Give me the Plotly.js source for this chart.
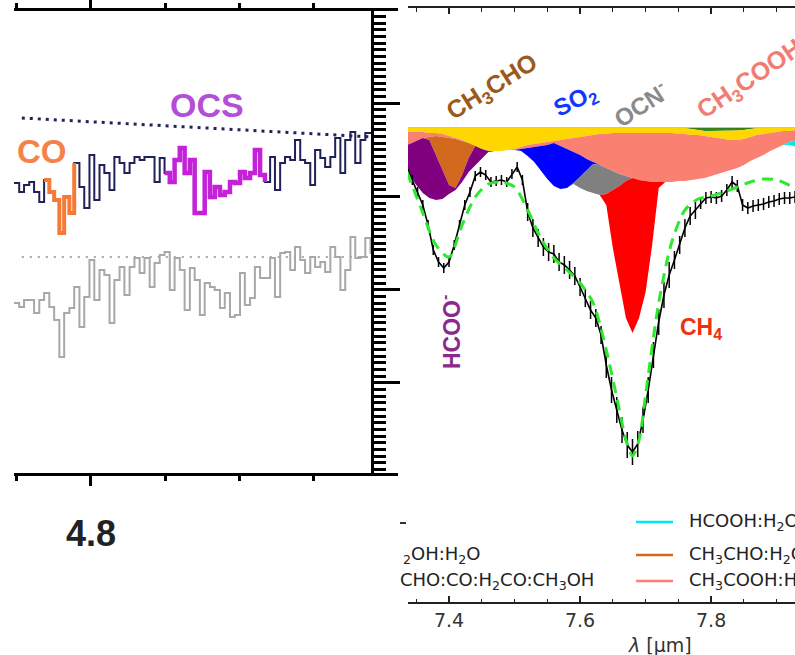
<!DOCTYPE html>
<html><head><meta charset="utf-8">
<script src="https://cdn.plot.ly/plotly-3.0.1.min.js"></script>
<style>html,body{margin:0;padding:0;overflow:hidden;background:#fff}#chart{width:795px;height:655px}</style>
</head><body><div id="chart"></div>
<script>
// ---------------- LEFT PANEL (4.8 micron region) ----------------
const leftWave = [4.7793,4.7807,4.7820,4.7834,4.7847,4.7861,4.7874,4.7888,4.7901,4.7915,
4.7928,4.7942,4.7955,4.7969,4.7982,4.7996,4.8009,4.8023,4.8036,4.8050,
4.8063,4.8077,4.8090,4.8104,4.8117,4.8131,4.8144,4.8158,4.8171,4.8185,
4.8198,4.8212,4.8225,4.8239,4.8252,4.8266,4.8279,4.8293,4.8306,4.8320,
4.8333,4.8347,4.8360,4.8374,4.8387,4.8401,4.8414,4.8428,4.8441,4.8455,
4.8468,4.8482,4.8495,4.8509,4.8522,4.8536,4.8549,4.8563,4.8576,4.8590,
4.8603,4.8617,4.8630,4.8644,4.8657,4.8671,4.8684,4.8698,4.8711,4.8725,
4.8738,4.8752,4.8759];
const navyFlux = [3.144,3.047,3.122,3.154,3.047,2.940,3.176,3.047,2.961,2.608,
2.994,2.822,3.358,3.101,2.876,3.444,2.961,3.337,3.251,3.069,
3.422,3.358,3.251,3.358,3.422,3.390,3.422,3.422,3.154,3.412,
3.251,3.154,3.390,3.519,3.251,3.390,2.822,2.822,3.262,2.994,
3.101,3.015,3.047,3.154,3.144,3.262,3.197,3.251,3.497,3.229,
3.154,3.422,3.069,3.358,3.422,3.390,3.604,3.390,3.358,3.122,
3.497,3.412,3.315,3.422,3.626,3.251,3.604,3.690,3.358,3.604,
3.680,3.680,3.680];
const grayFlux = [1.857,1.815,1.890,1.890,1.750,1.890,1.965,1.815,1.675,1.279,
1.750,1.804,2.029,1.600,1.922,2.318,1.890,2.211,2.158,1.643,
2.104,2.243,1.943,2.243,2.340,2.179,2.340,2.029,2.286,2.372,
2.404,1.997,2.340,2.211,1.782,2.233,2.104,1.729,2.072,2.029,
1.997,1.804,1.965,1.707,1.729,2.179,1.836,1.911,2.243,2.125,
2.125,2.340,1.922,2.393,2.404,2.211,2.458,2.318,2.179,2.350,
2.243,2.297,2.190,2.458,2.350,1.997,2.211,2.565,2.340,2.350,
2.554,2.393,2.393];
const coChannels = [6, 12];     // first/last channel of CO feature
const ocsChannels = [30, 50];   // first/last channel of OCS feature
const contWave = [4.7814, 4.8756];
const contNavy = [3.840, 3.637];
const contGray = [2.350, 2.350];
const leftMinorTicks = [4.78, 4.82, 4.84, 4.86];

// ---------------- RIGHT PANEL (7.3-7.9 micron region) ----------------
const compWave = [7.33,7.34,7.35,7.36,7.37,7.38,7.39,7.40,7.41,7.42,
7.43,7.44,7.45,7.46,7.47,7.48,7.49,7.50,7.51,7.52,
7.53,7.54,7.55,7.56,7.57,7.58,7.59,7.60,7.61,7.62,
7.63,7.64,7.65,7.66,7.67,7.68,7.69,7.70,7.71,7.72,
7.73,7.74,7.75,7.76,7.77,7.78,7.79,7.80,7.81,7.82,
7.83,7.84,7.85,7.86,7.87,7.88,7.89,7.90,7.91,7.92,7.93];
// optical depth of each ice component, in units of 1e-3 (stacked top to bottom)
const greenComp = [0,0,0,0,0,0,0,0,0,0, 0,0,0,0,0,0,0,0,0,0, 0,0,0,0,0,0,0,0,0,0,
 0,0,0,0,0,0,0,0,0,0, 0,0,0,0,1,2,3,3,3,3, 3,2.5,2,1,0,0,0,0,0,0, 0];
const yellowComp = [4,4,4,4,5,5,6,8,10,12, 15,18,21,23,23,23,22,21,19,17,
 16,15,14,13,12,11,10,9,8,7, 6,6,5,5,5,5,5,5,5,5, 5,5,6,6,6,5,5,6,7,8, 9,9.5,9,8,7,6,5,4,3,3, 2];
const salmonComp = [14,12,9,6,4,3,3,2,1,1, 0,0,0,0,0,0,0,1,2,3,
 3,3,3,2,6,10,14,18,23,27, 31,34,38,41,43,45,47,48,49,49, 49,49,47,47,45,44,42,39,36,33,
 30,28,26,24,23,21,18,16,14,11, 10];
const cyanComp = [0,0,0,0,0,0,0,0,0,0, 0,0,0,0,0,0,0,0,0,0, 0,0,0,0,0,0,0,0,0,0,
 0,0,0,0,0,0,0,0,0,0, 0,0,0,0,0,0,0,0,0,0, 0,0,0,0,0,0,0,0,0,3, 7];
const orangeComp = [0,0,0,0,3,19,33,47,49,34, 15,0,0,0,0,0,0,0,0,0, 0,0,0,0,0,0,0,0,0,0,
 0,0,0,0,0,0,0,0,0,0, 0,0,0,0,0,0,0,0,0,0, 0,0,0,0,0,0,0,0,0,0, 0];
const purpleComp = [22,31,44,55,58,45,29,9,2,7, 14,19,9,1,0,0,0,0,0,0, 0,0,0,0,0,0,0,0,0,0,
 0,0,0,0,0,0,0,0,0,0, 0,0,0,0,0,0,0,0,0,0, 0,0,0,0,0,0,0,0,0,0, 0];
const blueComp = [0,0,0,0,0,0,0,0,0,0, 0,0,0,0,0,0,0,0,2,8, 15,25,34,43,43,39,31,22,11,2,
 0,0,0,0,0,0,0,0,0,0, 0,0,0,0,0,0,0,0,0,0, 0,0,0,0,0,0,0,0,0,0, 0];
const grayComp = [0,0,0,0,0,0,0,0,0,0, 0,0,0,0,0,0,0,0,0,0, 0,0,0,0,0,0,1,11,21,29,
 30,26,19,12,5,0,0,0,0,0, 0,0,0,0,0,0,0,0,0,0, 0,0,0,0,0,0,0,0,0,0, 0];
const redComp = [0,0,0,0,0,0,0,0,0,0, 0,0,0,0,0,0,0,0,0,0, 0,0,0,0,0,0,0,0,0,0,
 0,11,58,97,137,155,138,111,63,6, 0,0,0,0,0,0,0,0,0,0, 0,0,0,0,0,0,0,0,0,0, 0];

const obsWave = [7.336,7.344,7.352,7.360,7.368,7.376,7.384,7.392,7.400,7.408,
7.416,7.424,7.432,7.440,7.448,7.456,7.464,7.472,7.480,7.488,
7.496,7.504,7.512,7.520,7.528,7.536,7.544,7.552,7.560,7.568,
7.576,7.584,7.592,7.600,7.608,7.616,7.624,7.632,7.640,7.648,
7.656,7.664,7.672,7.680,7.688,7.696,7.704,7.712,7.720,7.728,
7.736,7.744,7.752,7.760,7.768,7.776,7.784,7.792,7.800,7.808,
7.816,7.824,7.832,7.840,7.848,7.856,7.864,7.872,7.880,7.888,
7.896,7.904,7.912,7.920,7.928];
const obsTau = [40,52,64,77,97,122,134,140,134,117,
97,77,64,48,44,47,54,53,52,54,
46,39,52,84,100,110,119,124,126,134,
137,142,148,159,170,182,190,207,237,262,
282,302,317,324,316,292,262,227,194,167,
147,132,117,100,88,82,75,70,69,70,
68,62,54,58,77,80,78,77,76,74,
73,71,70,70,69];
const obsErr = [5,5,5,5,5,5,5,5,5,5, 5,5,5,5,5,5,5,5,5,5,
5,5,5,9,9,9,9,9,9,9, 9,9,9,9,9,9,9,9,13,13,
13,13,13,13,13,13,13,13,13,13, 13,9,9,9,9,9,6,6,6,6,
6,6,6,6,6,6,6,6,6,6, 6,6,6,6,6];
const modelWave = [7.336,7.36,7.38,7.40,7.42,7.44,7.46,7.48,7.50,7.52,7.54,7.56,7.58,7.60,7.62,7.64,
7.66,7.67,7.68,7.69,7.70,7.72,7.74,7.76,7.78,7.80,7.82,7.84,7.86,7.88,7.90,7.928];
const modelTau = [44,85,117,129,97,69,56,54,59,82,110,130,142,155,175,222,
282,312,328,312,267,175,114,82,71,68,64,59,54,51,52,60];

// ---------------- BUILD ----------------
const traces = [];
const L = {xaxis:'x', yaxis:'y'};
traces.push(Object.assign({x:leftWave, y:grayFlux, mode:'lines', line:{shape:'hv', color:'#a8a8a8', width:2}}, L));
traces.push(Object.assign({x:contWave, y:contGray, mode:'lines', line:{color:'#a8a8a8', width:2.2, dash:'2px,6px'}}, L));
traces.push(Object.assign({x:contWave, y:contNavy, mode:'lines', line:{color:'#20245a', width:3, dash:'3px,5px'}}, L));
traces.push(Object.assign({x:leftWave, y:navyFlux, mode:'lines', line:{shape:'hv', color:'#1e2258', width:2}}, L));
traces.push(Object.assign({x:leftWave.slice(coChannels[0], coChannels[1]+1), y:navyFlux.slice(coChannels[0], coChannels[1]+1),
  mode:'lines', line:{shape:'hv', color:'#f47a36', width:4}}, L));
traces.push(Object.assign({x:leftWave.slice(ocsChannels[0], ocsChannels[1]+1), y:navyFlux.slice(ocsChannels[0], ocsChannels[1]+1),
  mode:'lines', line:{shape:'hv', color:'#c322d8', width:4.5}}, L));

const R = {xaxis:'x2', yaxis:'y2'};
const layers = [
  [greenComp,'#2e8b1e'], [yellowComp,'#ffd700'], [salmonComp,'#fa8072'], [cyanComp,'#00e8f0'],
  [orangeComp,'#d2691e'], [purpleComp,'#800080'], [blueComp,'#0000ff'], [grayComp,'#808080'], [redComp,'#ff0000']
];
let cum = compWave.map(() => 0);
traces.push(Object.assign({x:compWave, y:cum.slice(), mode:'lines', line:{color:'rgba(80,100,20,0.7)', width:1}}, R));
layers.forEach(([arr, col]) => {
  cum = cum.map((v, i) => v + arr[i]);
  traces.push(Object.assign({x:compWave, y:cum.slice(), mode:'lines', line:{width:0, color:col},
    fill:'tonexty', fillcolor:col}, R));
});
traces.push(Object.assign({x:obsWave, y:obsTau, mode:'lines', line:{color:'#000', width:1.6},
  error_y:{type:'data', array:obsErr, visible:true, color:'#000', thickness:1.5, width:0}}, R));
traces.push(Object.assign({x:modelWave, y:modelTau, mode:'lines', line:{color:'#2ee82e', width:3, dash:'11px,7px', shape:'spline', smoothing:0.8}}, R));

const W = 795, H = 655;
function ann(text, px, py, size, color, extra) {
  return Object.assign({text:text, x:px/W, y:1-py/H, xref:'paper', yref:'paper', showarrow:false,
    xanchor:'center', yanchor:'middle',
    font:{family:'Liberation Sans, Arial, sans-serif', size:size, color:color}}, extra || {});
}
const legFont = {family:'DejaVu Sans, sans-serif', size:18, color:'#222'};
const annotations = [
  ann('<b>CO</b>', 42, 152, 33, '#f4834a'),
  ann('<b>OCS</b>', 207, 105, 34, '#b34ed8'),
  ann('<b>CH<sub>3</sub>CHO</b>', 492, 88, 25, '#9b5a1c', {textangle:-32}),
  ann('<b>SO<sub>2</sub></b>', 576, 102, 24, '#1437ff', {textangle:-27}),
  ann('<b>OCN<sup>-</sup></b>', 640, 104, 24, '#8a8a8a', {textangle:-33}),
  ann('<b>CH<sub>3</sub>COOH</b>', 750, 80, 25, '#f27c72', {textangle:-34}),
  ann('<b>HCOO<sup>-</sup></b>', 450, 332, 23, '#8c2a8c', {textangle:-90}),
  ann('<b>CH<sub>4</sub></b>', 701, 328, 23, '#f0300f'),
  ann('<i>λ</i> [μm]', 660, 645, 19, '#333', {font:{family:'DejaVu Sans, sans-serif', size:19, color:'#333'}}),
  ann('HCOOH:H<sub>2</sub>O', 687, 522, 18, '#222', {xanchor:'left', font:legFont}),
  ann('CH<sub>3</sub>CHO:H<sub>2</sub>O', 687, 555, 18, '#222', {xanchor:'left', font:legFont}),
  ann('CH<sub>3</sub>COOH:H<sub>2</sub>O', 687, 581, 18, '#222', {xanchor:'left', font:legFont}),
  ann('<sub>2</sub>OH:H<sub>2</sub>O', 401, 555, 18, '#222', {xanchor:'left', font:legFont}),
  ann('CHO:CO:H<sub>2</sub>CO:CH<sub>3</sub>OH', 398, 581, 18, '#222', {xanchor:'left', font:legFont})
];
function hline(px0, px1, py, color, w) {
  return {type:'line', xref:'paper', yref:'paper', x0:px0/W, x1:px1/W, y0:1-py/H, y1:1-py/H, line:{color:color, width:w}};
}
const shapes = [
  hline(636, 673, 522, '#00e5ff', 2.5),
  hline(636, 673, 555, '#d2691e', 2.5),
  hline(636, 673, 581, '#fa8072', 2.5),
  hline(400, 406, 523, '#333', 2)
];

const layout = {
  width:W, height:H, margin:{l:0, r:0, t:0, b:0, pad:0},
  paper_bgcolor:'#fff', plot_bgcolor:'rgba(0,0,0,0)', showlegend:false,
  xaxis:{domain:[14/W, 398/W], range:[4.7793, 4.8826], anchor:'y',
    showline:true, linewidth:3, linecolor:'#000', mirror:'ticks',
    ticks:'outside', ticklen:10, tickwidth:3, tickcolor:'#000',
    tick0:4.8, dtick:0.1, tickformat:'.1f',
    minor:{tickmode:'array', tickvals:leftMinorTicks, ticklen:5, tickwidth:3, tickcolor:'#000', ticks:'outside', showgrid:false},
    showgrid:false, zeroline:false, ticklabelstandoff:17,
    tickfont:{family:'Liberation Sans, Arial, sans-serif', size:36, color:'#222', weight:700}},
  yaxis:{domain:[(H-473)/H, (H-11)/H], range:[0.035, 4.987], anchor:'free', position:372/W, side:'right',
    showline:true, linewidth:3, linecolor:'#000', ticks:'outside', ticklen:26, tickwidth:3, tickcolor:'#000',
    tick0:0, dtick:1, minor:{dtick:1/14, tick0:0, ticklen:12, tickwidth:3, tickcolor:'#000', ticks:'outside', showgrid:false},
    showticklabels:false, showgrid:false, zeroline:false},
  xaxis2:{domain:[408/W, 1], range:[7.3374, 7.928], anchor:'y2',
    showline:true, linewidth:2, linecolor:'#222', mirror:'ticks',
    ticks:'inside', ticklen:6, tickwidth:1.5, tickcolor:'#222', tick0:7.4, dtick:0.2, tickformat:'.1f',
    minor:{dtick:0.05, tick0:7.4, ticklen:3.5, tickwidth:1.2, tickcolor:'#222', ticks:'inside', showgrid:false},
    tickfont:{family:'DejaVu Sans, sans-serif', size:19, color:'#333'}, showgrid:false, zeroline:false},
  yaxis2:{domain:[(H-602)/H, (H-8)/H], range:[474, -120], anchor:'x2', visible:false},
  annotations:annotations, shapes:shapes
};
Plotly.newPlot('chart', traces, layout, {staticPlot:true, displayModeBar:false});
</script></body></html>
